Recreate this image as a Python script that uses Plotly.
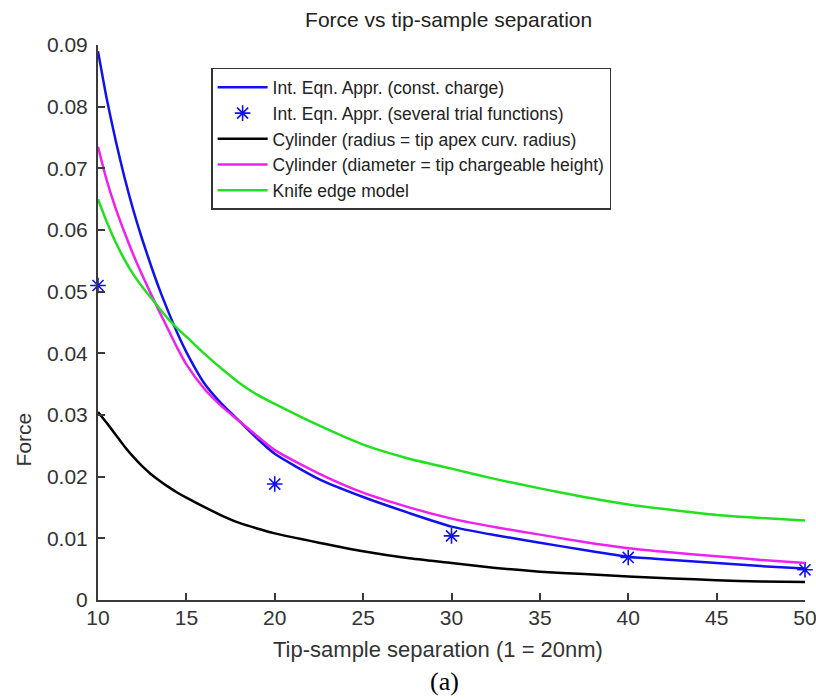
import plotly.graph_objects as go

# ---- data ----
separation = [10, 10.5, 11, 11.5, 12, 12.5, 13, 13.5, 14, 14.5, 15, 16, 17, 18, 19, 20,
              22.5, 25, 27.5, 30, 32.5, 35, 37.5, 40, 42.5, 45, 47.5, 50]

int_eqn_const_charge = [0.089, 0.0812, 0.0745, 0.0685, 0.0632, 0.0585, 0.0542, 0.0502,
                        0.0466, 0.0432, 0.0402, 0.0352, 0.0318, 0.0290, 0.0262, 0.0237,
                        0.0196, 0.0167, 0.0142, 0.0119, 0.0105, 0.0093, 0.0081, 0.0070,
                        0.0065, 0.0060, 0.0055, 0.0051]

cyl_radius = [0.0305, 0.0287, 0.0268, 0.0249, 0.0232, 0.0217, 0.0204, 0.0193,
              0.0183, 0.0174, 0.0166, 0.0151, 0.0137, 0.0125, 0.0116, 0.0108,
              0.0093, 0.0079, 0.0068, 0.0060, 0.0052, 0.0046, 0.0042, 0.0038,
              0.0035, 0.0032, 0.0030, 0.0029]

cyl_diameter = [0.0735, 0.0680, 0.0635, 0.0596, 0.0560, 0.0527, 0.0496, 0.0466,
                0.0437, 0.0408, 0.0382, 0.0343, 0.0314, 0.0290, 0.0266, 0.0243,
                0.0205, 0.0174, 0.0151, 0.0132, 0.0118, 0.0106, 0.0094, 0.0084,
                0.0077, 0.0071, 0.0065, 0.0060]

knife_edge = [0.0650, 0.0613, 0.0580, 0.0552, 0.0528, 0.0508, 0.0490, 0.0472,
              0.0455, 0.0440, 0.0427, 0.0400, 0.0375, 0.0352, 0.0333, 0.0318,
              0.0283, 0.0252, 0.0230, 0.0213, 0.0196, 0.0181, 0.0167, 0.0155,
              0.0146, 0.0138, 0.0133, 0.0129]

trial_sep = [10, 20, 30, 40, 50]
trial_force = [0.051, 0.0188, 0.0104, 0.0069, 0.0049]

x_ticks = [10, 15, 20, 25, 30, 35, 40, 45, 50]
y_ticks = [0, 0.01, 0.02, 0.03, 0.04, 0.05, 0.06, 0.07, 0.08, 0.09]
y_tick_labels = ["0", "0.01", "0.02", "0.03", "0.04", "0.05", "0.06", "0.07", "0.08", "0.09"]

FONT = "Liberation Sans, Arial, sans-serif"
AX = "#3a3a3a"
SMOOTH = dict(width=2.5, shape="spline", smoothing=0.6)

fig = go.Figure()
fig.add_trace(go.Scatter(x=separation, y=int_eqn_const_charge, mode="lines",
                         name="Int. Eqn. Appr. (const. charge)",
                         line=dict(color="#1010f0", **SMOOTH)))
fig.add_trace(go.Scatter(x=trial_sep, y=trial_force, mode="markers",
                         name="Int. Eqn. Appr. (several trial functions)",
                         cliponaxis=False,
                         marker=dict(symbol="asterisk-open", size=13, color="#1010f0",
                                     line=dict(color="#1010f0", width=1.6))))
fig.add_trace(go.Scatter(x=separation, y=cyl_radius, mode="lines",
                         name="Cylinder (radius = tip apex curv. radius)",
                         line=dict(color="#000000", **SMOOTH)))
fig.add_trace(go.Scatter(x=separation, y=cyl_diameter, mode="lines",
                         name="Cylinder (diameter = tip chargeable height)",
                         line=dict(color="#f020f0", **SMOOTH)))
fig.add_trace(go.Scatter(x=separation, y=knife_edge, mode="lines",
                         name="Knife edge model",
                         line=dict(color="#20e020", **SMOOTH)))

fig.update_xaxes(range=[10, 50], tickvals=x_ticks, ticks="inside", ticklen=7,
                 tickwidth=1.5, tickcolor=AX, showline=True, linecolor=AX,
                 linewidth=2, showgrid=False, zeroline=False, automargin=False,
                 tickfont=dict(family=FONT, size=21, color="#333333"),
                 ticklabelstandoff=-2, ticklabeloverflow="allow")
fig.update_yaxes(range=[0, 0.09], tickvals=y_ticks, ticktext=y_tick_labels,
                 ticks="inside", ticklen=7, tickwidth=1.5, tickcolor=AX,
                 showline=True, linecolor=AX, linewidth=2, showgrid=False,
                 zeroline=False, ticklabelstandoff=4, automargin=False,
                 tickfont=dict(family=FONT, size=21, color="#333333"))

fig.add_annotation(text="Tip-sample separation (1 = 20nm)", xref="paper", yref="paper",
                   x=0.481, y=-0.09, showarrow=False, xanchor="center", yanchor="middle",
                   font=dict(family=FONT, size=22, color="#333333"))
fig.add_annotation(text="Force", textangle=-90, xref="paper", yref="y",
                   x=-0.105, y=0.026, showarrow=False, xanchor="center", yanchor="middle",
                   font=dict(family=FONT, size=21, color="#333333"))
fig.add_annotation(text="(a)", xref="paper", yref="paper", x=0.49, y=-0.147,
                   showarrow=False, xanchor="center", yanchor="middle",
                   font=dict(family="Liberation Serif, Times New Roman, serif", size=26,
                             color="#000000"))

fig.update_layout(
    width=816, height=700, autosize=False,
    margin=dict(l=98, r=11, t=45, b=100),
    paper_bgcolor="white", plot_bgcolor="white",
    title=dict(text="Force vs tip-sample separation", x=0.496, xref="paper",
               y=1 - 20 / 700, yanchor="middle",
               font=dict(family=FONT, size=21, color="#222222")),
    legend=dict(x=0.16, y=0.9586, xanchor="left", yanchor="top",
                bgcolor="white", bordercolor="#333333", borderwidth=1.5,
                font=dict(family=FONT, size=17.5, color="#222222"),
                itemwidth=50, tracegroupgap=0),
    showlegend=True,
)

fig.write_html("out.html",
               config={"responsive": False, "displayModeBar": False},
               post_script="document.body.style.margin='0';document.body.style.overflow='hidden';")
